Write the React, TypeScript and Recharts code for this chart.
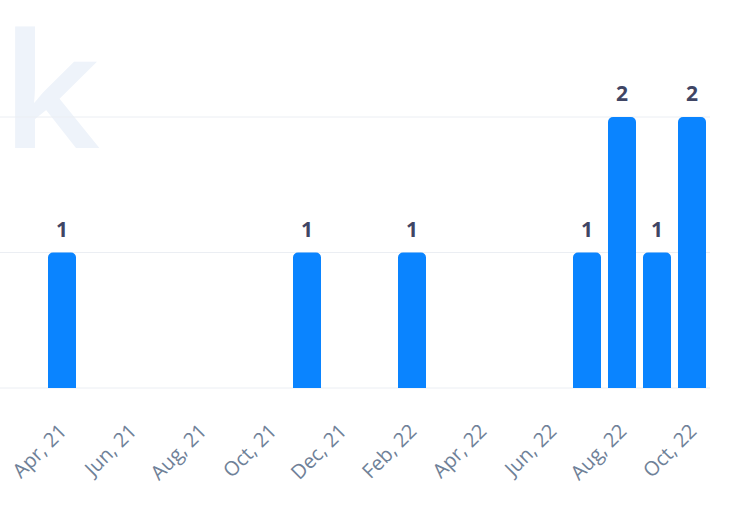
import { Bar, BarChart, CartesianGrid, LabelList, XAxis, YAxis } from "recharts"

const months = [
  "Apr, 21", "May, 21", "Jun, 21", "Jul, 21", "Aug, 21", "Sep, 21", "Oct, 21",
  "Nov, 21", "Dec, 21", "Jan, 22", "Feb, 22", "Mar, 22", "Apr, 22", "May, 22",
  "Jun, 22", "Jul, 22", "Aug, 22", "Sep, 22", "Oct, 22",
]
const counts = [1, 0, 0, 0, 0, 0, 0, 1, 0, 0, 1, 0, 0, 0, 0, 1, 2, 1, 2]
const yTicks = [0, 1, 2]

const data = months.map((month, i) => ({ month, count: counts[i] }))

const FONT = "'Open Sans', sans-serif"

function MonthTick({ x, y, payload }: any) {
  return (
    <text
      x={x}
      y={y}
      dy={9}
      transform={`rotate(-45, ${x}, ${y})`}
      textAnchor="end"
      fill="#6f8198"
      fontSize={20}
      fontFamily={FONT}
    >
      {payload.value}
    </text>
  )
}

export default function App() {
  return (
    <div style={{ position: "absolute", left: 0, top: 0, width: 731, height: 517, background: "#fff" }}>
      <svg width={731} height={517} style={{ position: "absolute", left: 0, top: 0 }}>
        {/* faint logo watermark */}
        <text
          x={1}
          y={148}
          transform="scale(1.08 1)"
          fontSize={160}
          fontWeight={600}
          fontFamily={FONT}
          fill="#eef3fa"
        >
          k
        </text>
      </svg>
      <div style={{ position: "absolute", left: 0, top: 0 }}>
        <BarChart
          width={731}
          height={517}
          data={data}
          margin={{ top: 117, right: 21, bottom: 0, left: 0 }}
        >
          <CartesianGrid vertical={false} stroke="#ebeef3" />
          <XAxis
            dataKey="month"
            interval={1}
            height={129}
            axisLine={false}
            tickLine={false}
            tick={<MonthTick />}
            tickMargin={32}
            padding={{ left: 44, right: 1 }}
          />
          <YAxis hide domain={[0, 2]} ticks={yTicks} />
          <Bar dataKey="count" fill="#0a84ff" barSize={28} radius={[5, 5, 0, 0]} isAnimationActive={false}>
            <LabelList
              dataKey="count"
              position="top"
              offset={16}
              fill="#3f4564"
              fontSize={21}
              fontWeight={700}
              fontFamily={FONT}
              formatter={(v: any) => (v ? v : "")}
            />
          </Bar>
        </BarChart>
      </div>
    </div>
  )
}
